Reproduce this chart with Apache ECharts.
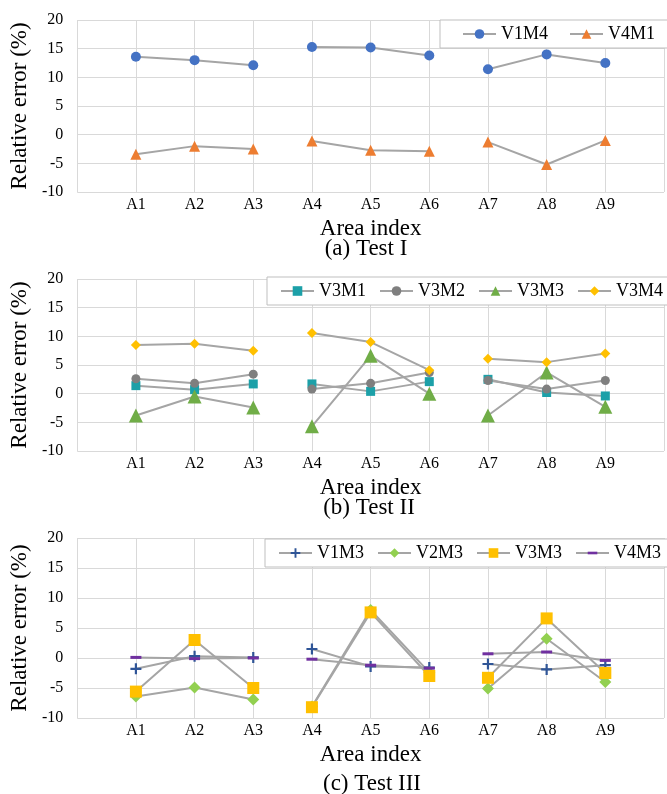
<!DOCTYPE html>
<html>
<head>
<meta charset="utf-8">
<script src="https://cdn.jsdelivr.net/npm/echarts@6/dist/echarts.min.js"></script>
<style>
  html, body { margin: 0; padding: 0; background: #fff; }
  #chart { width: 667px; height: 794px; }
</style>
</head>
<body>
<div id="chart"></div>
<script>
// categories
var areas = ['A1', 'A2', 'A3', 'A4', 'A5', 'A6', 'A7', 'A8', 'A9'];
var yMin = -10, yMax = 20, yStep = 5;

// (a) Test I
var v1m4 = [13.6, 13.0, 12.1, 15.3, 15.2, 13.8, 11.4, 14.0, 12.5];
var v4m1 = [-3.4, -2.0, -2.5, -1.1, -2.7, -2.9, -1.3, -5.2, -1.0];

// (b) Test II
var v3m1 = [1.4, 0.7, 1.7, 1.7, 0.4, 2.1, 2.5, 0.2, -0.4];
var v3m2 = [2.6, 1.8, 3.4, 0.8, 1.8, 3.7, 2.3, 0.8, 2.3];
var v3m3b = [-3.8, -0.5, -2.4, -5.7, 6.6, 0.0, -3.8, 3.7, -2.3];
var v3m4 = [8.5, 8.7, 7.5, 10.6, 9.0, 4.1, 6.1, 5.5, 7.0];

// (c) Test III
var v1m3 = [-1.8, 0.3, 0.1, 1.5, -1.4, -1.6, -1.0, -1.9, -1.2];
var v2m3 = [-6.4, -4.9, -6.9, -8.1, 8.0, -2.4, -5.1, 3.2, -4.0];
var v3m3c = [-5.6, 3.0, -5.0, -8.2, 7.6, -3.0, -3.3, 6.6, -2.5];
var v4m3 = [0.1, -0.1, 0.0, -0.2, -1.2, -1.7, 0.7, 1.0, -0.4];

var groups = [[0, 1, 2], [3, 4, 5], [6, 7, 8]];
var xCats = [''].concat(areas, ['']);

var FONT = 'Liberation Serif';
var LINE = '#a5a5a5';
var GRIDC = '#d9d9d9';

// plus and dash markers (dash keeps a square box so it stays flat in the legend too)
var PLUS = 'path://M4,0H6V4H10V6H6V10H4V6H0V4H4Z';
var DASH = 'path://M0,0M11,11M0,4H11V7H0Z';

var panels = [
    { left: 70, top: 20, height: 172, title: '(a) Test I', titleY: 249,
      legend: { left: 440, top: 20, gap: 21, padL: 22, width: 240 } },
    { left: 73, top: 279, height: 172, title: '(b) Test II', titleY: 508,
      legend: { left: 267, top: 277, gap: 13, padL: 13, width: 420 } },
    { left: 76, top: 538, height: 180, title: '(c) Test III', titleY: 784,
      legend: { left: 265, top: 539, gap: 13, padL: 13, width: 420 } }
];

var lines = [
    { p: 0, key: 'V1M4|a', values: v1m4, symbol: 'circle', size: 10, color: '#4472c4' },
    { p: 0, key: 'V4M1|a', values: v4m1, symbol: 'triangle', size: 11, color: '#ed7d31' },
    { p: 1, key: 'V3M1|b', values: v3m1, symbol: 'rect', size: 9, color: '#1ca0a8' },
    { p: 1, key: 'V3M2|b', values: v3m2, symbol: 'circle', size: 9, color: '#7f7f7f' },
    { p: 1, key: 'V3M3|b', values: v3m3b, symbol: 'triangle', size: 14, color: '#70ad47' },
    { p: 1, key: 'V3M4|b', values: v3m4, symbol: 'diamond', size: 10, color: '#ffc000' },
    { p: 2, key: 'V1M3|c', values: v1m3, symbol: PLUS, size: 11, color: '#2f5597' },
    { p: 2, key: 'V2M3|c', values: v2m3, symbol: 'diamond', size: 12, color: '#92d050' },
    { p: 2, key: 'V3M3|c', values: v3m3c, symbol: 'rect', size: 12, color: '#ffc000' },
    { p: 2, key: 'V4M3|c', values: v4m3, symbol: DASH, size: 11, color: '#7030a0' }
];

var grids = [], xAxes = [], yAxes = [], legends = [], graphics = [], series = [];

panels.forEach(function(p, i) {
    grids.push({ left: p.left, top: p.top, width: 600, height: p.height });
    xAxes.push({
        type: 'category', gridIndex: i, data: xCats, boundaryGap: false,
        axisLine: { show: false }, axisTick: { show: false },
        axisLabel: { interval: 0, margin: 5, fontFamily: FONT, fontSize: 16, color: '#000' },
        splitLine: { show: true, interval: 0, lineStyle: { color: GRIDC, width: 1 } },
        name: 'Area index', nameLocation: 'middle', nameGap: 25,
        nameTextStyle: { fontFamily: FONT, fontSize: 23, color: '#000' }
    });
    yAxes.push({
        type: 'value', gridIndex: i, min: yMin, max: yMax, interval: yStep,
        axisLine: { show: false }, axisTick: { show: false },
        axisLabel: { margin: 14, fontFamily: FONT, fontSize: 16, color: '#000' },
        splitLine: { lineStyle: { color: GRIDC, width: 1 } },
        name: 'Relative error (%)', nameLocation: 'middle', nameGap: 33,
        nameTextStyle: { fontFamily: FONT, fontSize: 23, color: '#000' }
    });
    graphics.push({
        type: 'text', x: p.left + 296, y: p.titleY,
        style: { text: p.title, textAlign: 'center', textVerticalAlign: 'middle',
                 font: '23px "Liberation Serif"', fill: '#000' }
    });
    legends.push({
        left: p.legend.left, top: p.legend.top, width: p.legend.width,
        orient: 'horizontal',
        data: lines.filter(function(l) { return l.p === i; }).map(function(l) { return l.key; }),
        formatter: function(name) { return name.split('|')[0]; },
        itemWidth: 33, itemHeight: 12, itemGap: p.legend.gap,
        padding: [5, 30, 5, p.legend.padL],
        borderColor: '#bfbfbf', borderWidth: 1, backgroundColor: '#fff',
        selectedMode: false,
        textStyle: { fontFamily: FONT, fontSize: 18, color: '#000' }
    });
});

lines.forEach(function(l) {
    groups.forEach(function(g) {
        series.push({
            type: 'line', name: l.key, xAxisIndex: l.p, yAxisIndex: l.p,
            data: xCats.map(function(c, k) {
                return g.indexOf(k - 1) >= 0 ? l.values[k - 1] : null;
            }),
            symbol: l.symbol, symbolSize: l.size, showSymbol: true,
            itemStyle: { color: l.color },
            lineStyle: { color: LINE, width: 2 },
            emphasis: { disabled: true },
            animation: false
        });
    });
});

var chart = echarts.init(document.getElementById('chart'));
chart.setOption({
    animation: false,
    grid: grids,
    xAxis: xAxes,
    yAxis: yAxes,
    legend: legends,
    graphic: graphics,
    series: series
});
</script>
</body>
</html>
